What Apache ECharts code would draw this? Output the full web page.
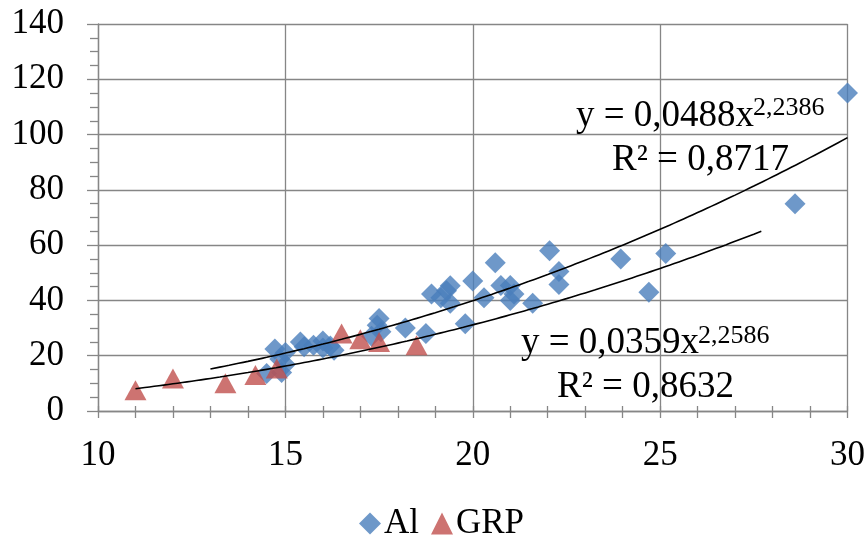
<!DOCTYPE html>
<html>
<head>
<meta charset="utf-8">
<script src="https://cdn.jsdelivr.net/npm/echarts@6/dist/echarts.min.js"></script>
<style>
  html, body { margin: 0; padding: 0; background: #fff; }
  #chart { width: 868px; height: 539px; }
</style>
</head>
<body>
<div id="chart"></div>
<script>
// data: [x, y]
var alPoints = [
  [14.5, 13.6], [14.9, 13.9], [15.0, 16.8], [14.85, 18.8], [14.72, 22.4], [15.0, 21.2],
  [15.4, 25], [15.5, 23.2], [15.75, 23.8], [16.0, 25.3], [16.0, 22.8], [16.3, 22.0],
  [16.2, 23.5], [17.3, 27], [17.45, 31], [17.5, 33.5], [17.55, 28.7], [18.2, 30],
  [18.75, 28], [18.9, 42.3], [19.15, 41], [19.4, 45.3], [19.4, 39], [19.3, 43.5],
  [19.8, 31.6], [20.0, 47], [20.3, 41], [20.6, 53.6], [20.75, 45.4], [21.0, 45.4],
  [21.1, 42.3], [21.0, 40], [21.6, 39], [22.05, 58], [22.3, 50.5], [22.3, 45.8],
  [23.95, 55], [24.7, 43], [25.15, 57], [28.6, 75], [30, 115]
];
var grpPoints = [
  [11.0, 7.5], [12.0, 11.8], [13.4, 10], [14.2, 13], [14.77, 15.4],
  [16.5, 28], [17.0, 26], [17.5, 25], [18.5, 23.8]
];

// power trendlines as printed on the chart: y = a * x^b, drawn over [from, to]
var alTrend = { a: 0.0488, b: 2.2386, from: 13, to: 30 };
var grpTrend = { a: 0.0359, b: 2.2586, from: 11, to: 27.7 };

var xTicks = { min: 10, max: 30, interval: 5 };
var yTicks = { min: 0, max: 140, interval: 20 };

function trendLine(t) {
  var pts = [];
  for (var x = t.from; x < t.to; x += 0.25) {
    pts.push([x, t.a * Math.pow(x, t.b)]);
  }
  pts.push([t.to, t.a * Math.pow(t.to, t.b)]);
  return pts;
}

var font = 'Liberation Serif';
var gray = '#868686';

var chart = echarts.init(document.getElementById('chart'));
var option = {
  animation: false,
  textStyle: { fontFamily: font },
  grid: { left: 98, right: 20, top: 24, bottom: 128 },
  legend: {
    data: [
      { name: 'Al', icon: 'diamond' },
      { name: 'GRP', icon: 'triangle' }
    ],
    left: 354,
    top: 501,
    itemWidth: 22,
    itemHeight: 22,
    itemGap: 12,
    textStyle: { fontFamily: font, fontSize: 35, color: '#000', padding: [0, 0, 0, -2] }
  },
  xAxis: [
    {
      type: 'value',
      min: xTicks.min, max: xTicks.max, interval: xTicks.interval,
      axisLine: { show: true, lineStyle: { color: gray, width: 1.3 } },
      axisTick: { show: true, length: 7, lineStyle: { color: gray, width: 1.3 } },
      minorTick: { show: true, splitNumber: 5, length: 7, lineStyle: { color: gray, width: 1.3 } },
      splitLine: { show: true, lineStyle: { color: gray, width: 1.3 } },
      axisLabel: { color: '#000', fontFamily: font, fontSize: 35, margin: 27 }
    },
    {
      type: 'value',
      position: 'bottom',
      min: xTicks.min, max: xTicks.max, interval: xTicks.interval,
      axisLine: { show: false },
      axisTick: { show: true, inside: true, length: 5, lineStyle: { color: gray, width: 1.3 } },
      minorTick: { show: true, splitNumber: 5, length: 5, lineStyle: { color: gray, width: 1.3 } },
      splitLine: { show: false },
      axisLabel: { show: false }
    }
  ],
  yAxis: {
    type: 'value',
    min: yTicks.min, max: yTicks.max, interval: yTicks.interval,
    axisLine: { show: true, lineStyle: { color: gray, width: 1.3 } },
    axisTick: { show: true, length: 11, lineStyle: { color: gray, width: 1.3 } },
    minorTick: { show: true, splitNumber: 4, length: 8, lineStyle: { color: gray, width: 1.3 } },
    splitLine: { show: true, lineStyle: { color: gray, width: 1.3 } },
    axisLabel: { color: '#000', fontFamily: font, fontSize: 35, margin: 34 }
  },
  series: [
    {
      name: 'Al',
      type: 'scatter',
      symbol: 'diamond',
      symbolSize: 21,
      itemStyle: { color: '#4a7ebb' },
      data: alPoints,
      z: 3
    },
    {
      name: 'GRP',
      type: 'scatter',
      symbol: 'triangle',
      symbolSize: [22, 20],
      itemStyle: { color: '#c0504d' },
      data: grpPoints,
      z: 3
    },
    {
      name: 'Al trend',
      type: 'line',
      data: trendLine(alTrend),
      showSymbol: false,
      smooth: true,
      lineStyle: { color: '#000', width: 1.6 },
      z: 4
    },
    {
      name: 'GRP trend',
      type: 'line',
      data: trendLine(grpTrend),
      showSymbol: false,
      smooth: true,
      lineStyle: { color: '#000', width: 1.6 },
      z: 4
    }
  ],
  graphic: [
    { type: 'text', left: 576, top: 98, z: 10,
      style: { text: 'y = 0,0488x', font: '37px "Liberation Serif"', fill: '#000' } },
    { type: 'text', left: 753, top: 95, z: 10,
      style: { text: '2,2386', font: '26px "Liberation Serif"', fill: '#000' } },
    { type: 'text', left: 612, top: 142, z: 10,
      style: { text: 'R² = 0,8717', font: '37px "Liberation Serif"', fill: '#000' } },
    { type: 'text', left: 521, top: 325, z: 10,
      style: { text: 'y = 0,0359x', font: '37px "Liberation Serif"', fill: '#000' } },
    { type: 'text', left: 698, top: 323, z: 10,
      style: { text: '2,2586', font: '26px "Liberation Serif"', fill: '#000' } },
    { type: 'text', left: 557, top: 369, z: 10,
      style: { text: 'R² = 0,8632', font: '37px "Liberation Serif"', fill: '#000' } }
  ]
};
chart.setOption(option);
</script>
</body>
</html>
